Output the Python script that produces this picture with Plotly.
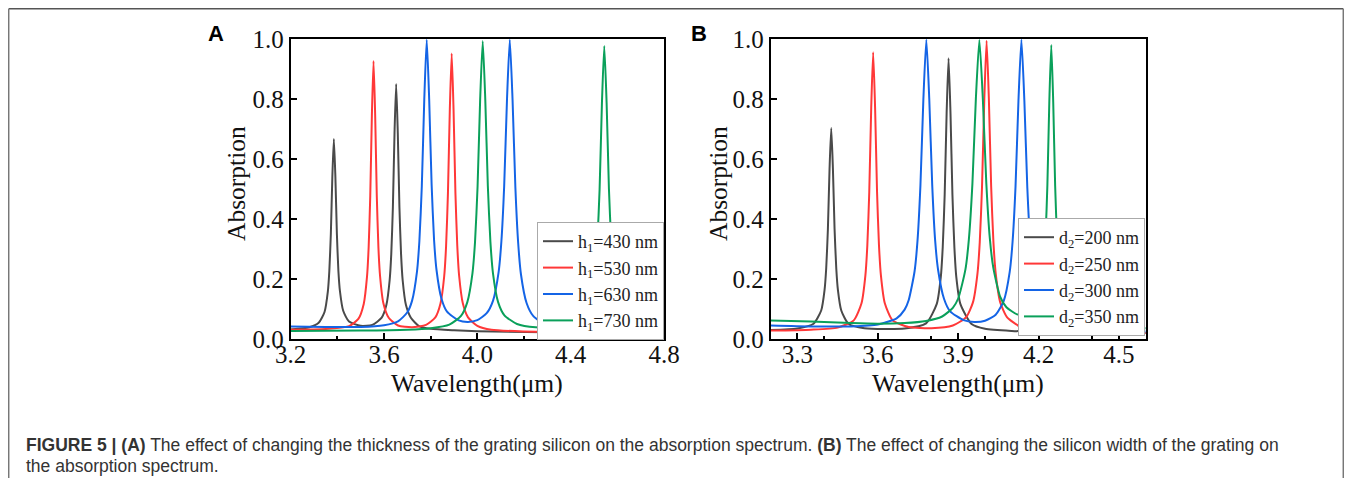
import plotly.graph_objects as go

# ---------------- data ----------------
# Panel A: grating silicon thickness h1
wl_a_430 = [3.20, 3.28, 3.32, 3.345, 3.359, 3.3655, 3.372, 3.3785, 3.385, 3.3915, 3.398, 3.4045, 3.411, 3.425, 3.45, 3.50, 3.55, 3.59, 3.61, 3.624, 3.631, 3.638, 3.645, 3.652, 3.659, 3.666, 3.673, 3.68, 3.694, 3.715, 3.75, 3.80, 3.90, 4.00, 4.40, 4.80]
ab_a_430 = [0.032, 0.039, 0.054, 0.090, 0.157, 0.226, 0.349, 0.541, 0.667, 0.541, 0.349, 0.226, 0.160, 0.094, 0.058, 0.044, 0.047, 0.071, 0.113, 0.195, 0.283, 0.440, 0.686, 0.850, 0.686, 0.440, 0.283, 0.195, 0.113, 0.071, 0.043, 0.034, 0.029, 0.026, 0.022, 0.020]

wl_a_530 = [3.20, 3.35, 3.45, 3.49, 3.513, 3.527, 3.534, 3.541, 3.548, 3.555, 3.562, 3.569, 3.576, 3.583, 3.597, 3.62, 3.66, 3.72, 3.78, 3.82, 3.842, 3.858, 3.866, 3.874, 3.882, 3.890, 3.898, 3.906, 3.914, 3.922, 3.938, 3.96, 4.00, 4.06, 4.20, 4.50, 4.80]
ab_a_530 = [0.031, 0.033, 0.043, 0.067, 0.117, 0.207, 0.304, 0.477, 0.747, 0.927, 0.747, 0.477, 0.304, 0.210, 0.120, 0.071, 0.045, 0.039, 0.047, 0.072, 0.118, 0.210, 0.310, 0.487, 0.765, 0.952, 0.765, 0.487, 0.310, 0.210, 0.118, 0.072, 0.044, 0.031, 0.025, 0.021, 0.020]

wl_a_630 = [3.20, 3.35, 3.50, 3.60, 3.66, 3.70, 3.72, 3.741, 3.7515, 3.762, 3.7725, 3.783, 3.7935, 3.804, 3.8145, 3.825, 3.846, 3.87, 3.92, 3.96, 4.00, 4.04, 4.067, 4.091, 4.103, 4.115, 4.127, 4.139, 4.151, 4.163, 4.175, 4.187, 4.211, 4.24, 4.30, 4.40, 4.60, 4.80]
ab_a_630 = [0.042, 0.040, 0.040, 0.046, 0.059, 0.089, 0.127, 0.223, 0.326, 0.510, 0.798, 0.998, 0.800, 0.515, 0.330, 0.230, 0.135, 0.091, 0.062, 0.057, 0.063, 0.086, 0.127, 0.222, 0.325, 0.510, 0.797, 0.998, 0.795, 0.505, 0.320, 0.215, 0.120, 0.076, 0.044, 0.031, 0.025, 0.022]

wl_a_730 = [3.20, 3.50, 3.70, 3.80, 3.88, 3.93, 3.957, 3.979, 3.990, 4.001, 4.012, 4.023, 4.034, 4.045, 4.056, 4.067, 4.089, 4.116, 4.17, 4.25, 4.35, 4.43, 4.48, 4.504, 4.514, 4.524, 4.534, 4.544, 4.554, 4.564, 4.574, 4.584, 4.604, 4.64, 4.70, 4.80]
ab_a_730 = [0.027, 0.028, 0.031, 0.036, 0.048, 0.077, 0.123, 0.219, 0.323, 0.509, 0.798, 0.993, 0.798, 0.509, 0.323, 0.219, 0.123, 0.079, 0.050, 0.039, 0.040, 0.057, 0.112, 0.218, 0.320, 0.500, 0.787, 0.977, 0.787, 0.500, 0.320, 0.218, 0.112, 0.066, 0.042, 0.031]

# Panel B: grating silicon width d2
wl_b_200 = [3.20, 3.30, 3.36, 3.3885, 3.401, 3.40725, 3.4135, 3.41975, 3.426, 3.43225, 3.4385, 3.44475, 3.451, 3.4635, 3.49, 3.55, 3.70, 3.78, 3.82, 3.835, 3.84225, 3.8495, 3.85675, 3.864, 3.87125, 3.8785, 3.88575, 3.893, 3.908, 3.95, 4.00, 4.10, 4.30, 4.60]
ab_b_200 = [0.030, 0.035, 0.051, 0.095, 0.163, 0.236, 0.366, 0.568, 0.703, 0.568, 0.366, 0.236, 0.163, 0.095, 0.051, 0.036, 0.035, 0.052, 0.117, 0.206, 0.306, 0.480, 0.752, 0.936, 0.752, 0.480, 0.306, 0.206, 0.117, 0.050, 0.034, 0.027, 0.022, 0.020]

wl_b_250 = [3.20, 3.35, 3.45, 3.51, 3.539, 3.5535, 3.56075, 3.568, 3.57525, 3.5825, 3.58975, 3.597, 3.60425, 3.6115, 3.626, 3.655, 3.715, 3.80, 3.88, 3.93, 3.955, 3.972, 3.9805, 3.989, 3.9975, 4.006, 4.0145, 4.023, 4.0315, 4.040, 4.057, 4.082, 4.13, 4.20, 4.35, 4.60]
ab_b_250 = [0.028, 0.031, 0.038, 0.062, 0.119, 0.212, 0.312, 0.491, 0.770, 0.956, 0.770, 0.491, 0.312, 0.212, 0.119, 0.062, 0.040, 0.036, 0.045, 0.073, 0.122, 0.219, 0.323, 0.509, 0.800, 0.994, 0.800, 0.509, 0.323, 0.219, 0.122, 0.073, 0.042, 0.031, 0.024, 0.020]

wl_b_300 = [3.20, 3.35, 3.50, 3.60, 3.67, 3.70, 3.715, 3.737, 3.748, 3.759, 3.770, 3.781, 3.792, 3.803, 3.814, 3.825, 3.847, 3.87, 3.92, 3.96, 4.00, 4.04, 4.07, 4.092, 4.103, 4.114, 4.125, 4.136, 4.147, 4.158, 4.169, 4.18, 4.202, 4.23, 4.30, 4.40, 4.60]
ab_b_300 = [0.045, 0.042, 0.042, 0.048, 0.069, 0.098, 0.129, 0.225, 0.327, 0.512, 0.800, 0.998, 0.800, 0.513, 0.328, 0.230, 0.134, 0.092, 0.063, 0.057, 0.061, 0.081, 0.127, 0.222, 0.324, 0.508, 0.796, 0.998, 0.795, 0.505, 0.320, 0.217, 0.120, 0.075, 0.041, 0.030, 0.025]

wl_b_350 = [3.20, 3.35, 3.50, 3.60, 3.70, 3.78, 3.84, 3.88, 3.90, 3.927, 3.940, 3.953, 3.966, 3.979, 3.992, 4.005, 4.018, 4.031, 4.057, 4.08, 4.12, 4.14, 4.16, 4.19, 4.204, 4.2185, 4.22575, 4.233, 4.24025, 4.2475, 4.25475, 4.262, 4.26925, 4.2765, 4.291, 4.32, 4.40, 4.60]
ab_b_350 = [0.062, 0.058, 0.053, 0.051, 0.053, 0.060, 0.075, 0.104, 0.135, 0.232, 0.334, 0.517, 0.802, 0.997, 0.800, 0.518, 0.336, 0.238, 0.140, 0.106, 0.082, 0.080, 0.083, 0.109, 0.145, 0.237, 0.336, 0.515, 0.794, 0.980, 0.790, 0.510, 0.330, 0.230, 0.135, 0.080, 0.048, 0.036]

names_a = ["h<sub>1</sub>=430 nm", "h<sub>1</sub>=530 nm", "h<sub>1</sub>=630 nm", "h<sub>1</sub>=730 nm"]
names_b = ["d<sub>2</sub>=200 nm", "d<sub>2</sub>=250 nm", "d<sub>2</sub>=300 nm", "d<sub>2</sub>=350 nm"]
colors = ["#4a4a4a", "#ff3838", "#1464e6", "#0aa05a"]

xticks_a = [3.2, 3.6, 4.0, 4.4, 4.8]
xticks_b = [3.3, 3.6, 3.9, 4.2, 4.5]
yticks = [0.0, 0.2, 0.4, 0.6, 0.8, 1.0]

x_title = "Wavelength(μm)"
y_title = "Absorption"
caption_1 = ("<b>FIGURE 5 | (A)</b> The effect of changing the thickness of the grating silicon on the "
             "absorption spectrum. <b>(B)</b> The effect of changing the silicon width of the grating on")
caption_2 = "the absorption spectrum."

# ---------------- figure ----------------
# the page body has an 8 px margin, so the figure is sized to fit inside the window
OFF = 8
W, H = 1352 - 2 * OFF, 486 - 2 * OFF
fig = go.Figure()

series_a = [(wl_a_430, ab_a_430), (wl_a_530, ab_a_530), (wl_a_630, ab_a_630), (wl_a_730, ab_a_730)]
series_b = [(wl_b_200, ab_b_200), (wl_b_250, ab_b_250), (wl_b_300, ab_b_300), (wl_b_350, ab_b_350)]

for (x, y), n, c in zip(series_a, names_a, colors):
    fig.add_trace(go.Scatter(x=x, y=y, name=n, mode="lines",
                             line=dict(color=c, width=2, shape="spline", smoothing=0.6),
                             xaxis="x", yaxis="y", legend="legend"))
for (x, y), n, c in zip(series_b, names_b, colors):
    fig.add_trace(go.Scatter(x=x, y=y, name=n, mode="lines",
                             line=dict(color=c, width=2, shape="spline", smoothing=0.6),
                             xaxis="x2", yaxis="y2", legend="legend2"))


def px_x(p):
    return (p - OFF) / W


def px_y(p):
    return 1 - (p - OFF) / H


serif = "Liberation Serif, Times New Roman, serif"
sans = "Liberation Sans, Arial, sans-serif"
tickfont = dict(family=serif, size=25, color="#111111")
titlefont = dict(family=serif, size=25.5, color="#111111")

common = dict(showline=True, linecolor="#000000", linewidth=2, mirror=True,
              ticks="inside", ticklen=6, tickwidth=1.5, tickcolor="#000000",
              minor=dict(ticks="inside", ticklen=3, tickwidth=1.5, tickcolor="#000000", nticks=2),
              showgrid=False, zeroline=False, tickfont=tickfont, automargin=False)
common_y = dict(range=[0, 1.0], tickvals=yticks, ticktext=[f"{v:.1f}" for v in yticks], **common)

fig.update_layout(
    width=W, height=H,
    margin=dict(l=0, r=0, t=0, b=0, autoexpand=False),
    paper_bgcolor="white", plot_bgcolor="white",
    xaxis=dict(domain=[px_x(290.7), px_x(664)], range=[3.2, 4.8], anchor="y",
               tickvals=xticks_a, ticktext=[f"{v:.1f}" for v in xticks_a],
               ticklabelstandoff=-8, **common),
    yaxis=dict(domain=[px_y(339), px_y(39)], anchor="x", **common_y),
    xaxis2=dict(domain=[px_x(770.7), px_x(1145.7)], range=[3.2, 4.6], anchor="y2",
                tickvals=xticks_b, ticktext=[f"{v:.1f}" for v in xticks_b],
                ticklabelstandoff=-8, **common),
    yaxis2=dict(domain=[px_y(339), px_y(39)], anchor="x2", **common_y),
    legend=dict(x=px_x(537), y=px_y(222), xanchor="left", yanchor="top",
                bgcolor="white", bordercolor="#aaaaaa", borderwidth=1,
                font=dict(family=serif, size=18, color="#222222")),
    legend2=dict(x=px_x(1018), y=px_y(218), xanchor="left", yanchor="top",
                 bgcolor="white", bordercolor="#aaaaaa", borderwidth=1,
                 font=dict(family=serif, size=18, color="#222222")),
    showlegend=True,
)

# axis titles
for cx in (477.3, 958.2):
    fig.add_annotation(text=x_title, x=px_x(cx), y=px_y(383), xref="paper", yref="paper",
                       showarrow=False, xanchor="center", yanchor="middle", font=titlefont)
for cx in (236, 718):
    fig.add_annotation(text=y_title, x=px_x(cx), y=px_y(184), xref="paper", yref="paper",
                       showarrow=False, xanchor="center", yanchor="middle", textangle=-90, font=titlefont)

# panel labels
fig.add_annotation(text="<b>A</b>", x=px_x(216), y=px_y(34), xref="paper", yref="paper",
                   xanchor="center", yanchor="middle",
                   showarrow=False, font=dict(family=sans, size=22, color="#000000"))
fig.add_annotation(text="<b>B</b>", x=px_x(699), y=px_y(34), xref="paper", yref="paper",
                   xanchor="center", yanchor="middle",
                   showarrow=False, font=dict(family=sans, size=22, color="#000000"))

# caption
fig.add_annotation(text=caption_1, x=px_x(24), y=px_y(445), xref="paper", yref="paper",
                   xanchor="left", yanchor="middle", showarrow=False,
                   font=dict(family=sans, size=17.5, color="#333333"))
fig.add_annotation(text=caption_2, x=px_x(24), y=px_y(466), xref="paper", yref="paper",
                   xanchor="left", yanchor="middle", showarrow=False,
                   font=dict(family=sans, size=17.5, color="#333333"))

# outer frame (top, left, right edges)
fig.add_shape(type="line", xref="paper", yref="paper", x0=px_x(8.7), x1=px_x(1343.3), y0=px_y(8.7), y1=px_y(8.7),
              line=dict(color="#555555", width=1.5))
fig.add_shape(type="line", xref="paper", yref="paper", x0=px_x(8.7), x1=px_x(8.7), y0=px_y(8.7), y1=0,
              line=dict(color="#777777", width=1.5))
fig.add_shape(type="line", xref="paper", yref="paper", x0=px_x(1343.3), x1=px_x(1343.3), y0=px_y(8.7), y1=0,
              line=dict(color="#777777", width=1.5))

fig.write_html("out.html")
